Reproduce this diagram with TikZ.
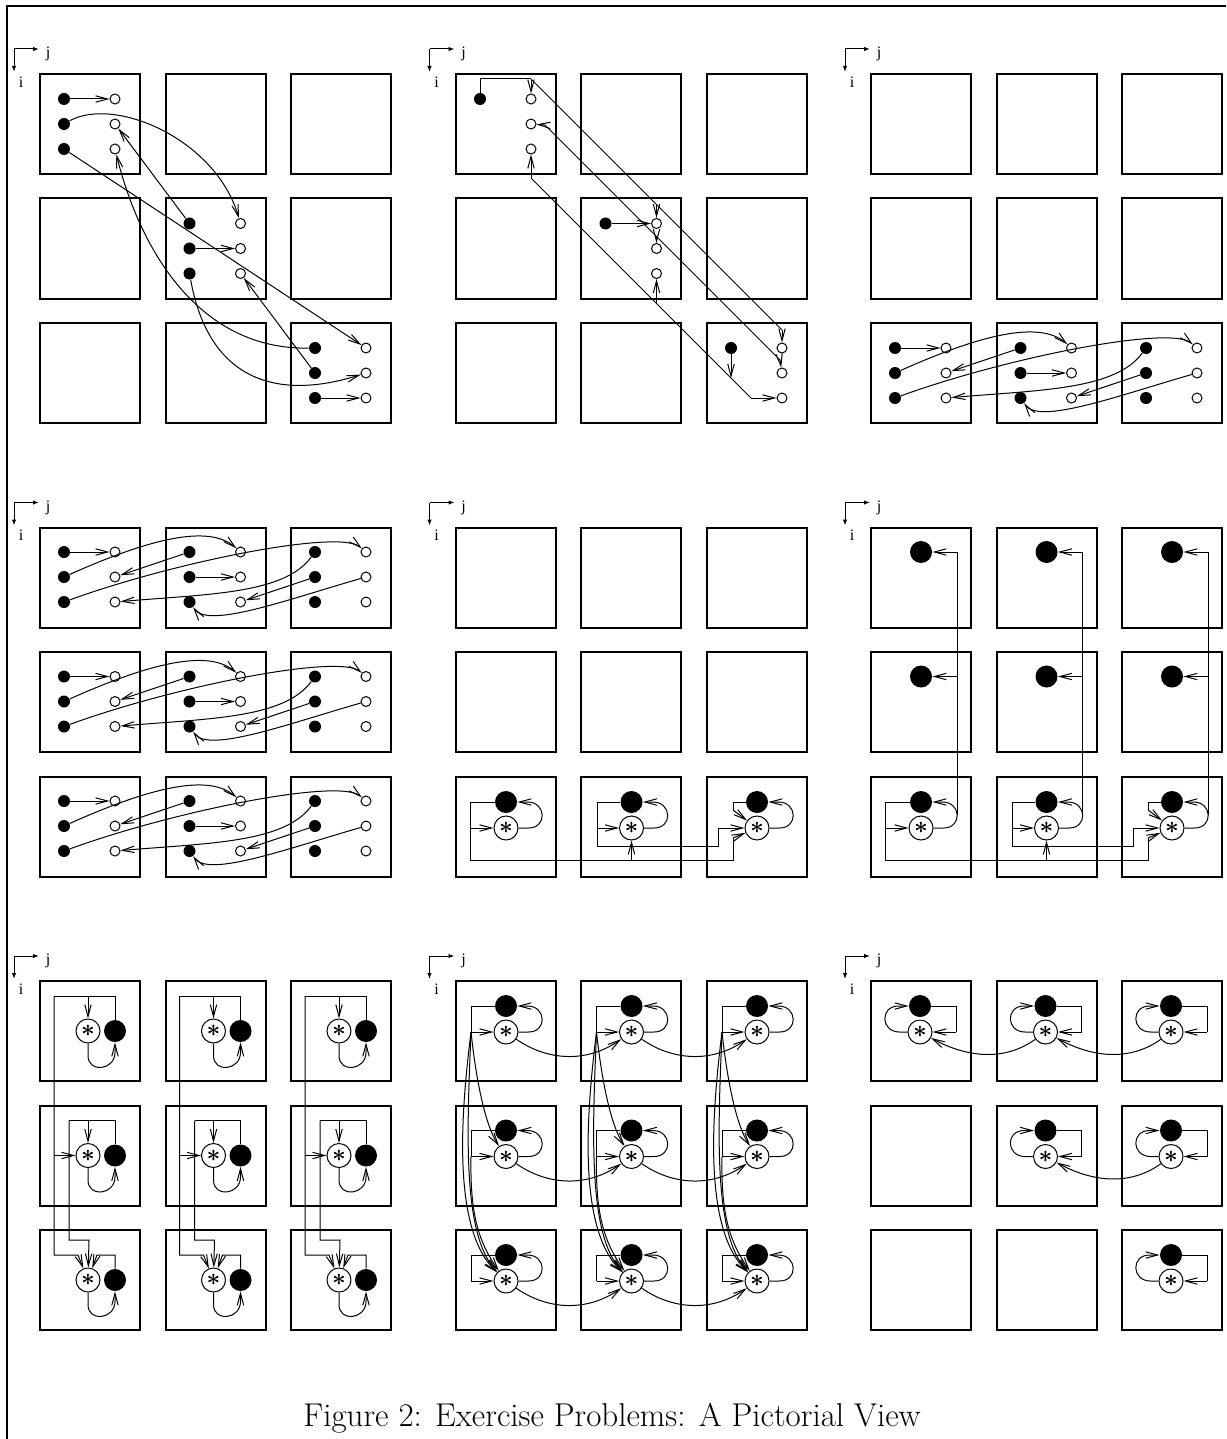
\documentclass[tikz,border=0pt]{standalone}
\usepackage{fontspec}
\newfontfamily\lblfont{Liberation Serif}
\usetikzlibrary{arrows.meta}

\begin{document}
\begin{tikzpicture}[x=0.5pt,y=-0.5pt,
    cell/.style={line width=1pt},
    link/.style={line width=0.5pt},
    flow/.style={link,-{Straight Barb[length=6pt,width=3.2pt]}},
    axis/.style={line width=0.5pt,-{Latex[length=3pt,width=2.2pt]}},
    lbl/.style={font=\lblfont\fontsize{8}{9}\selectfont,inner sep=0pt},
    fdot/.style={circle,fill=black,minimum size=6pt,inner sep=0pt},
    odot/.style={circle,draw,line width=0.5pt,fill=white,minimum size=5pt,inner sep=0pt},
    bigdot/.style={circle,fill=black,minimum size=11pt,inner sep=0pt},
    snode/.style={circle,draw,line width=0.5pt,fill=white,minimum size=12pt,
                  inner sep=0pt,font=\fontsize{12}{12}\selectfont\boldmath}]

    \useasboundingbox (0,0) rectangle (1226,1439);
    % frame
    \draw[cell] (1226,6) -- (7,6) -- (7,1439);

    % boxes and axes of the nine panels
    \foreach \P in {0,1,2} {
      \foreach \Q in {0,1,2} {
        \begin{scope}[shift={(40+415.5*\Q,74+453.5*\P)}]
          \coordinate (ax\P\Q) at (-26,-25);
          \coordinate (axj\P\Q) at (-1,-25);
          \coordinate (axi\P\Q) at (-26,-2);
          \draw[axis] (ax\P\Q) -- (axj\P\Q);
          \draw[axis] (ax\P\Q) -- (axi\P\Q);
          \node[lbl] (j\P\Q) at (8,-20) {j};
          \node[lbl] (i\P\Q) at (-19,8) {i};
          \foreach \r in {0,1,2} {
            \foreach \c in {0,1,2} {
              \draw[cell] (125.5*\c,124.5*\r) rectangle ++(100,100);
            }
          }
        \end{scope}
      }
    }

    % Panel 1
    \begin{scope}[shift={(40,74)}]
      \foreach \k in {0,1,2} {
        \foreach \m in {1,2,3} {
          \node[fdot] (p1f\k-\m) at (24+125.5*\k,124.5*\k+25*\m) {};
          \node[odot] (p1o\k-\m) at (75+125.5*\k,124.5*\k+25*\m) {};
        }
      }
      \draw[flow] (p1f0-1) -- (p1o0-1);
      \draw[flow] (p1f1-2) -- (p1o1-2);
      \draw[flow] (p1f2-3) -- (p1o2-3);
      \draw[flow] (p1f1-1) -- (p1o0-2);
      \draw[flow] (p1f2-2) -- (p1o1-3);
      \draw[flow] (p1f0-3) -- (p1o2-1);
      \draw[flow] (p1f0-2) .. controls +(50,-28) and +(-25,-85) .. (p1o1-1);
      \draw[flow] (p1f1-3) .. controls +(20,110) and +(-86,27) .. (p1o2-2);
      \draw[flow] (p1f2-1) .. controls +(-116,2) and +(25,101) .. (p1o0-3);
    \end{scope}

    % Panel 2
    \begin{scope}[shift={(456,74)}]
      \foreach \k in {0,1,2} {
        \node[fdot] (p2f\k) at (24+125.5*\k,124.5*\k+25) {};
        \foreach \m in {1,2,3} {
          \node[odot] (p2o\k-\m) at (75+125.5*\k,124.5*\k+25*\m) {};
        }
      }
      \coordinate (p2a) at (75,5);
      \coordinate (p2b) at (200.5,130.5);
      \coordinate (p2c) at (326,256);
      \draw[link] (p2f0) |- (p2a);
      \draw[flow] (p2a) -- (p2o0-1);
      \draw[link] (p2a) -- (p2c);
      \draw[flow] (p2c) -- (p2o2-1);
      \draw[flow] (p2b) -- (p2o1-1);
      \draw[flow] (p2f1) -- (p2o1-1);
      \coordinate (p2d) at (89,51);
      \coordinate (p2e) at (324,286);
      \coordinate (p2g) at (200.5,162.5);
      \draw[flow] (p2d) -- (p2o0-2);
      \draw[link] (p2d) -- (p2e);
      \draw[flow] (p2e) -- (p2o2-2);
      \draw[flow] (p2g) -- (p2o1-2);
      \coordinate (p2h) at (75,104);
      \coordinate (p2i) at (295,324);
      \coordinate (p2j) at (200.5,229.5);
      \coordinate (p2k) at (275,304);
      \draw[flow] (p2h) -- (p2o0-3);
      \draw[link] (p2h) -- (p2i);
      \draw[flow] (p2i) -- (p2o2-3);
      \draw[flow] (p2j) -- (p2o1-3);
      \draw[flow] (p2f2) -- (p2k);
    \end{scope}

    % Panels 3 and 4 (one row pattern)
    \foreach \sx/\sy/\nm in {871/323/r,40/527/s,40/651.5/t,40/776/u} {
      \begin{scope}[shift={(\sx,\sy)}]
        \foreach \k in {0,1,2} {
          \foreach \m in {1,2,3} {
            \node[fdot] (\nm f\k-\m) at (24+125.5*\k,25*\m) {};
            \node[odot] (\nm o\k-\m) at (75+125.5*\k,25*\m) {};
          }
        }
        \draw[flow] (\nm f0-1) -- (\nm o0-1);
        \draw[flow] (\nm f1-2) -- (\nm o1-2);
        \draw[flow] (\nm f1-1) -- (\nm o0-2);
        \draw[flow] (\nm f2-2) -- (\nm o1-3);
        \draw[flow] (\nm f0-2) .. controls +(85,-38) and +(-32,-28) .. (\nm o1-1);
        \draw[flow] (\nm f0-3) .. controls +(110,-40) and +(-27,-23) .. (\nm o2-1);
        \draw[flow] (\nm f2-1) .. controls +(-31,42) and +(94,-8) .. (\nm o0-3);
        \draw[flow] (\nm o2-2) .. controls +(-77,22) and +(19,27) .. (\nm f1-3);
      \end{scope}
    }

    % Panels 5 and 6, bottom rows
    \foreach \sx/\nm in {456/v,871/w} {
      \begin{scope}[shift={(\sx,776)}]
        \foreach \k in {0,1,2} {
          \node[bigdot] (\nm f\k) at (50+125.5*\k,26) {};
          \node[snode] (\nm s\k) at (50+125.5*\k,52) {$\ast$};
          \draw[flow] (\nm s\k.east) -- ++(10,0) .. controls +(19,0) and +(19,0)
            .. ([xshift=5pt]\nm f\k.east) -- (\nm f\k.east);
        }
        \coordinate (\nm a) at (14,84);
        \coordinate (\nm b) at (277,62);
        \coordinate (\nm c) at (141,70);
        \coordinate (\nm d) at (262,52);
        \coordinate (\nm e) at (277,34);
        \draw[link] (\nm f0) -| (\nm a) -| (\nm b);
        \draw[flow] (\nm b) -- (\nm s2);
        \draw[flow] (\nm a |- \nm s0) -- (\nm s0);
        \draw[flow] (\nm a -| \nm s1) -- (\nm s1);
        \draw[link] (\nm f1) -| (\nm c) -| (\nm d);
        \draw[flow] (\nm d) -- (\nm s2);
        \draw[flow] (\nm c |- \nm s1) -- (\nm s1);
        \draw[link] (\nm f2) -| (\nm e);
        \draw[flow] (\nm e) -- (\nm s2);
      \end{scope}
    }

    % Panel 6, upper rows
    \begin{scope}[shift={(871,527)}]
      \foreach \c in {0,1,2} {
        \node[bigdot] (xf\c0) at (50+125.5*\c,25) {};
        \node[bigdot] (xf\c1) at (50+125.5*\c,149.5) {};
        \coordinate (xt\c) at (86+125.5*\c,25);
        \coordinate (xb\c) at (86+125.5*\c,288);
        \draw[link] (xt\c) -- (xb\c);
        \draw[flow] (xt\c) -- (xf\c0);
        \draw[flow] (xt\c |- xf\c1) -- (xf\c1);
      }
    \end{scope}

    % Panel 7
    \begin{scope}[shift={(40,981)}]
      \foreach \c in {0,1,2} {
        \foreach \r in {0,1,2} {
          \node[snode] (ys\c\r) at (48+125.5*\c,50+124.5*\r) {$\ast$};
          \node[bigdot] (yf\c\r) at (75+125.5*\c,50+124.5*\r) {};
          \draw[flow] (ys\c\r.south) -- ++(0,12) .. controls +(0,18) and +(0,18)
            .. ([yshift=-5pt]yf\c\r.south) -- (yf\c\r.south);
        }
        \coordinate (yk\c0) at (14+125.5*\c,15);
        \coordinate (yq\c0) at (38+125.5*\c,274);
        \coordinate (yk\c1) at (29+125.5*\c,139.5);
        \coordinate (yq\c1) at (49+125.5*\c,259);
        \coordinate (yq\c2) at (57+125.5*\c,274);
        \draw[link] (yf\c0) |- (yk\c0);
        \draw[flow] (yk\c0 -| ys\c0) -- (ys\c0);
        \draw[flow] (yk\c0) |- (yq\c0) -- (ys\c2);
        \draw[flow] (yk\c0 |- ys\c1) -- (ys\c1);
        \draw[link] (yf\c1) |- (yk\c1);
        \draw[flow] (yk\c1 -| ys\c1) -- (ys\c1);
        \draw[flow] (yk\c1) |- (yq\c1) -- (ys\c2);
        \draw[flow] (yf\c2) |- (yq\c2) -- (ys\c2);
      }
    \end{scope}

    % Panel 8
    \begin{scope}[shift={(456,981)}]
      \foreach \c in {0,1,2} {
        \foreach \r in {0,1,2} {
          \node[bigdot] (zf\c\r) at (50+125.5*\c,25+124.5*\r) {};
          \node[snode] (zs\c\r) at (50+125.5*\c,51+124.5*\r) {$\ast$};
          \coordinate (zk\c\r) at (15+125.5*\c,51+124.5*\r);
          \draw[link] (zf\c\r) -| (zk\c\r);
          \draw[flow] (zk\c\r) -- (zs\c\r);
          \draw[flow] (zs\c\r.east) -- ++(10,0) .. controls +(19,0) and +(19,0)
            .. ([xshift=5pt]zf\c\r.east) -- (zf\c\r.east);
        }
        \draw[flow] (zk\c0) .. controls +(5,47) and +(-21,-31.5) .. (zs\c1);
        \draw[flow] (zk\c0) .. controls +(-11,88) and +(-53,-51) .. (zs\c2);
        \draw[flow] (zk\c0) .. controls +(-4,98) and +(-44,-46) .. (zs\c2);
        \draw[flow] (zk\c1) .. controls +(-1,54) and +(-29,-41) .. (zs\c2);
      }
      \foreach \r in {0,1,2} {
        \draw[flow] (zs0\r) .. controls +(40,28) and +(-46,32) .. (zs1\r);
        \draw[flow] (zs1\r) .. controls +(40,28) and +(-46,32) .. (zs2\r);
      }
    \end{scope}

    % Panel 9
    \begin{scope}[shift={(871,981)}]
      \foreach \c/\r in {0/0,1/0,2/0,1/1,2/1,2/2} {
        \node[bigdot] (qf\c\r) at (49+125.5*\c,25+124.5*\r) {};
        \node[snode] (qs\c\r) at (49+125.5*\c,51+124.5*\r) {$\ast$};
        \coordinate (qk\c\r) at (85+125.5*\c,51+124.5*\r);
        \draw[link] (qf\c\r) -| (qk\c\r);
        \draw[flow] (qk\c\r) -- (qs\c\r);
        \draw[flow] (qs\c\r.west) -- ++(-8,0) .. controls +(-19,0) and +(-19,0)
          .. ([xshift=-5pt]qf\c\r.west) -- (qf\c\r.west);
      }
      \draw[flow] (qs10) .. controls +(-42,30) and +(46,25) .. (qs00);
      \draw[flow] (qs20) .. controls +(-42,30) and +(46,25) .. (qs10);
      \draw[flow] (qs21) .. controls +(-42,30) and +(46,25) .. (qs11);
    \end{scope}

    % caption
    \node[font=\fontsize{16.5}{19}\selectfont,anchor=base west,inner sep=0pt] (cap)
      at (303,1426) {Figure 2: Exercise Problems: A Pictorial View};
  \end{tikzpicture}
\end{document}
